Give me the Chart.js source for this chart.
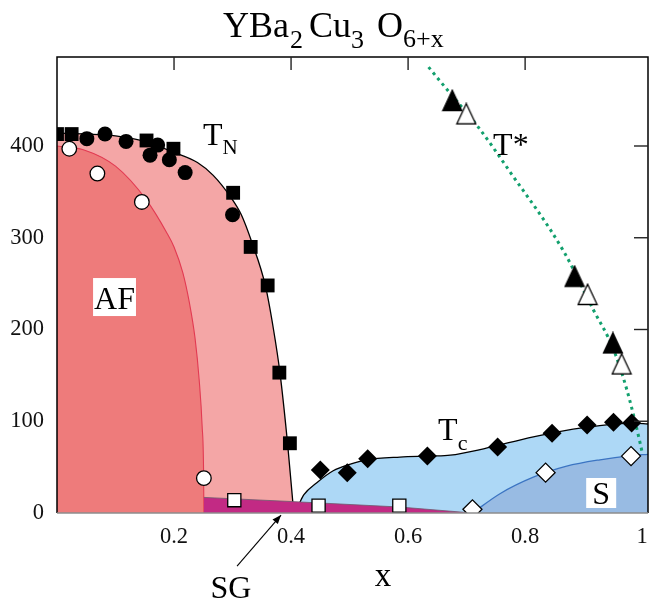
<!DOCTYPE html>
<html><head><meta charset="utf-8">
<script src="https://cdn.jsdelivr.net/npm/chart.js@4.4.1/dist/chart.umd.min.js"></script>
<style>html,body{margin:0;padding:0;background:#fff}#wrap{width:649px;height:601px;position:relative}canvas{display:block}</style>
</head><body><div id="wrap"><canvas id="c" width="649" height="601"></canvas></div>
<script>
const SERIF = '"Liberation Serif", "Times New Roman", serif';

// ---- measured points ----
const tnSquareX = [0.0, 0.025, 0.153, 0.199, 0.301, 0.331, 0.360, 0.380, 0.398];
const tnSquareY = [413, 413, 406, 397, 349, 290, 248, 153, 76];
const tnCircleX = [0.051, 0.082, 0.118, 0.159, 0.172, 0.192, 0.219, 0.300];
const tnCircleY = [408, 413, 405, 390, 401, 385, 371, 325];
const afCircleX = [0.021, 0.069, 0.145, 0.251];
const afCircleY = [397, 370, 339, 38];
const sgSquareX = [0.303, 0.447, 0.585];
const sgSquareY = [14, 8, 8];
const tcDiamondX = [0.450, 0.496, 0.531, 0.633, 0.753, 0.846, 0.906, 0.951, 0.982];
const tcDiamondY = [47, 44, 59, 62, 72, 87, 96, 99, 98];
const sDiamondX = [0.710, 0.835, 0.981];
const sDiamondY = [4, 44, 62];
const tsFilledX = [0.6755, 0.8846, 0.950];
const tsFilledY = [449.6, 258, 185.3];
const tsOpenX = [0.6994, 0.9068, 0.965];
const tsOpenY = [435, 238.2, 162.4];

// ---- boundaries ----
const tnCurveX = [0, 0.05, 0.10, 0.15, 0.20, 0.24, 0.267, 0.296, 0.315, 0.333, 0.356, 0.370, 0.381, 0.394, 0.403, 0.405];
const tnCurveY = [414, 413, 411, 405, 393, 382, 368, 345, 325, 295, 248, 200, 153, 76, 12, 0];
const afCurveX = [0, 0.045, 0.10, 0.153, 0.188, 0.20, 0.215, 0.226, 0.236, 0.243, 0.248, 0.2505, 0.251];
const afCurveY = [400, 396, 378, 341, 305, 290, 262, 230, 190, 145, 95, 45, 0];
const tcCurveX = [0.413, 0.422, 0.444, 0.472, 0.50, 0.529, 0.586, 0.64, 0.672, 0.729, 0.814, 0.90, 0.985, 1.01];
const tcCurveY = [9, 20, 33, 46, 53, 58, 61, 62, 63, 70, 83, 93, 98, 97];
const sCurveX = [0.71, 0.757, 0.814, 0.871, 0.928, 0.981, 1.01];
const sCurveY = [0, 21, 39, 51, 58, 62.5, 64];
const sgEdgeX = [0.251, 0.40, 0.586, 0.71];
const sgEdgeY = [17, 12.5, 6.5, 0];
const tstarX = [0.635, 0.675, 0.717, 0.774, 0.866, 0.917, 0.950, 0.974, 0.997, 1.0];
const tstarY = [486, 455, 423, 372, 285, 221, 180, 134, 75, 66];

// ---- ticks ----
const xTicks = [0.2, 0.4, 0.6, 0.8, 1];
const yTicks = [0, 100, 200, 300, 400];
const xInnerTicks = [0.2, 0.4, 0.6, 0.8];
const yInnerTicks = [100, 200, 300, 400];

function pts(xs, ys) { return xs.map((x, i) => ({ x: x, y: ys[i] })); }

function triImg(fill) {
  const c = document.createElement('canvas');
  c.width = 22; c.height = 23;
  const g = c.getContext('2d');
  g.beginPath();
  g.moveTo(11, 1.2); g.lineTo(20.5, 21.5); g.lineTo(1.5, 21.5); g.closePath();
  g.fillStyle = fill; g.fill();
  g.lineWidth = 1.3; g.strokeStyle = '#000'; g.stroke();
  return c;
}

function rich(ctx, x, y, runs) {
  let cx = x;
  runs.forEach(r => {
    ctx.font = r.size + 'px ' + SERIF;
    ctx.fillText(r.t, cx, y + (r.dy || 0));
    cx += ctx.measureText(r.t).width + (r.gap || 0);
  });
}

const annot = {
  id: 'annot',
  afterDatasetsDraw(chart) {
    const ctx = chart.ctx, xs = chart.scales.x, ys = chart.scales.y, a = chart.chartArea;
    const X = v => xs.getPixelForValue(v), Y = v => ys.getPixelForValue(v);
    ctx.save();
    // frame
    ctx.lineWidth = 1.5;
    ctx.strokeStyle = '#000';
    ctx.beginPath();
    ctx.moveTo(a.left, a.bottom); ctx.lineTo(a.left, a.top); ctx.lineTo(a.right, a.top); ctx.lineTo(a.right, a.bottom);
    ctx.stroke();
    ctx.strokeStyle = '#8c8c8c';
    ctx.beginPath(); ctx.moveTo(a.left, a.bottom); ctx.lineTo(a.right, a.bottom); ctx.stroke();
    // inner ticks top / right
    ctx.strokeStyle = '#222'; ctx.lineWidth = 1.4;
    xInnerTicks.forEach(v => { ctx.beginPath(); ctx.moveTo(X(v), a.top); ctx.lineTo(X(v), a.top + 13); ctx.stroke(); });
    yInnerTicks.forEach(v => { ctx.beginPath(); ctx.moveTo(a.right, Y(v)); ctx.lineTo(a.right - 14, Y(v)); ctx.stroke(); });

    ctx.fillStyle = '#000';
    ctx.textBaseline = 'alphabetic';
    ctx.textAlign = 'left';
    // T_N
    rich(ctx, X(0.2496), Y(401), [{ t: 'T', size: 32 }, { t: 'N', size: 21, dy: 9 }]);
    // T*
    rich(ctx, X(0.7453), Y(390), [{ t: 'T*', size: 32 }]);
    // T_c
    rich(ctx, X(0.6513), Y(79.6), [{ t: 'T', size: 32 }, { t: 'c', size: 22, dy: 10 }]);
    // AF box
    ctx.font = '32px ' + SERIF;
    let w = ctx.measureText('AF').width;
    let cx = X(0.0983), by = Y(222.3);
    ctx.fillStyle = '#fff'; ctx.fillRect(cx - w / 2 - 1, by - 31, w + 2, 38);
    ctx.fillStyle = '#000'; ctx.textAlign = 'center'; ctx.fillText('AF', cx, by);
    // S box
    cx = X(0.930); by = Y(9.8);
    ctx.fillStyle = '#fff'; ctx.fillRect(cx - 15, by - 26, 30, 30);
    ctx.fillStyle = '#000'; ctx.fillText('S', cx, by);
    // SG + arrow
    ctx.fillText('SG', X(0.2974), Y(-92.6));
    const x0 = X(0.3077), y0 = Y(-57.8), x1 = X(0.3829), y1 = Y(-2.2);
    ctx.strokeStyle = '#000'; ctx.lineWidth = 1.1;
    ctx.beginPath(); ctx.moveTo(x0, y0); ctx.lineTo(x1, y1); ctx.stroke();
    const ang = Math.atan2(y1 - y0, x1 - x0), hl = 9, hw = 3.5;
    ctx.beginPath();
    ctx.moveTo(x1, y1);
    ctx.lineTo(x1 - hl * Math.cos(ang) + hw * Math.sin(ang), y1 - hl * Math.sin(ang) - hw * Math.cos(ang));
    ctx.lineTo(x1 - hl * Math.cos(ang) - hw * Math.sin(ang), y1 - hl * Math.sin(ang) + hw * Math.cos(ang));
    ctx.closePath(); ctx.fill();
    // axis title x
    ctx.font = '33px ' + SERIF;
    ctx.fillText('x', X(0.557), Y(-79.5));
    // title
    ctx.textAlign = 'left';
    rich(ctx, 223, 37, [
      { t: 'YBa', size: 36, gap: 1 }, { t: '2', size: 26, dy: 11, gap: 6 },
      { t: 'Cu', size: 36 }, { t: '3', size: 26, dy: 11, gap: 13 },
      { t: 'O', size: 36 }, { t: '6+x', size: 26, dy: 10 }
    ]);
    ctx.restore();
  }
};

const curve = (xs, ys, fillColor, lineColor, lw, order) => ({
  data: pts(xs, ys), showLine: true, fill: 'origin', backgroundColor: fillColor,
  borderColor: lineColor, borderWidth: lw, pointRadius: 0, cubicInterpolationMode: 'monotone', order: order
});
const marks = (xs, ys, style, r, fill, order) => ({
  data: pts(xs, ys), showLine: false, pointStyle: style, pointRadius: r,
  backgroundColor: fill, borderColor: '#000', borderWidth: fill === '#000' ? 0 : 1.3, order: order
});

const datasets = [
  curve(tnCurveX, tnCurveY, '#F4A6A6', '#000', 1.3, 100),
  curve(afCurveX, afCurveY, '#EE7B7B', '#E23A52', 1.1, 90),
  curve(tcCurveX, tcCurveY, '#ADD8F6', '#000', 1.3, 80),
  curve(sCurveX, sCurveY, '#98BBE3', '#3B74C2', 1.3, 70),
  Object.assign(curve(sgEdgeX, sgEdgeY, '#C22A84', 'rgba(110,90,110,0.8)', 1, 60), { cubicInterpolationMode: 'default', tension: 0 }),
  { data: pts(tstarX, tstarY), showLine: true, fill: false, borderColor: '#13A06E', borderWidth: 3, borderDash: [3, 4],
    pointRadius: 0, cubicInterpolationMode: 'monotone', order: 50 },
  marks(tnSquareX, tnSquareY, 'rect', 9.8, '#000', 10),
  marks(tnCircleX, tnCircleY, 'circle', 7.5, '#000', 10),
  marks(afCircleX, afCircleY, 'circle', 7.3, '#fff', 10),
  marks(sgSquareX, sgSquareY, 'rect', 9.3, '#fff', 10),
  marks(tcDiamondX, tcDiamondY, 'rectRot', 9.5, '#000', 10),
  marks(sDiamondX, sDiamondY, 'rectRot', 9.5, '#fff', 10),
  { data: pts(tsFilledX, tsFilledY), showLine: false, pointStyle: triImg('#000'), pointRadius: 10, order: 11 },
  { data: pts(tsOpenX, tsOpenY), showLine: false, pointStyle: triImg('#fff'), pointRadius: 10, order: 11 }
];

new Chart(document.getElementById('c'), {
  type: 'scatter',
  data: { datasets: datasets },
  options: {
    responsive: false, animation: false, devicePixelRatio: 1,
    layout: { autoPadding: false, padding: { top: 57, right: 1, bottom: 0, left: 0 } },
    plugins: { legend: { display: false }, tooltip: { enabled: false }, title: { display: false } },
    elements: { line: { tension: 0 } },
    scales: {
      x: {
        type: 'linear', min: 0, max: 1.01,
        afterBuildTicks(s) { s.ticks = xTicks.map(v => ({ value: v })); },
        afterFit(s) { s.height = 88; s.paddingLeft = 0; s.paddingRight = 0; },
        ticks: { font: { family: SERIF, size: 22.5 }, color: '#111', padding: 11, maxRotation: 0, autoSkip: false,
                 callback: v => String(v) },
        grid: { display: false, drawTicks: false }, border: { display: false }
      },
      y: {
        type: 'linear', min: 0, max: 497,
        afterBuildTicks(s) { s.ticks = yTicks.map(v => ({ value: v })); },
        afterFit(s) { s.width = 57; s.paddingTop = 0; s.paddingBottom = 0; },
        ticks: { font: { family: SERIF, size: 22.5 }, color: '#111', padding: 13, callback: v => String(v) },
        grid: { display: false, drawTicks: false }, border: { display: false }
      }
    }
  },
  plugins: [annot]
});
</script></body></html>
